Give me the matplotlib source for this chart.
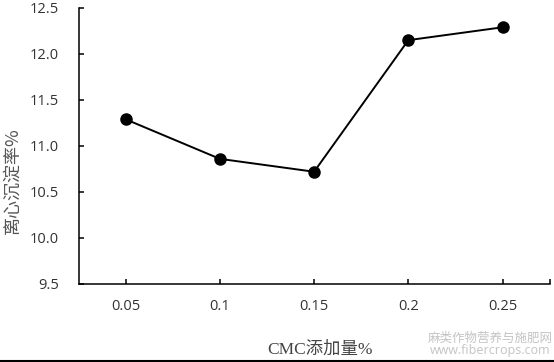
import matplotlib.pyplot as plt
from matplotlib.lines import Line2D

# CMC添加量 vs 离心沉淀率
cmc_labels = ['0.05', '0.1', '0.15', '0.2', '0.25']
sediment = [11.29, 10.86, 10.72, 12.15, 12.29]
y_ticks = [9.5, 10.0, 10.5, 11.0, 11.5, 12.0, 12.5]

fig = plt.figure(figsize=(5.54, 3.62), dpi=100)
ax = fig.add_axes([0.1417, 0.2155, 0.8505, 0.7625])

x = list(range(len(cmc_labels)))
ax.plot(x, sediment, color='black', lw=1.4, marker='o', markersize=8,
        markerfacecolor='black', markeredgecolor='black')

ax.set_xlim(-0.5, len(cmc_labels) - 0.5)
ax.set_ylim(9.5, 12.5)
ax.set_xticks(x)
ax.set_xticklabels(cmc_labels)
ax.set_xticks([len(cmc_labels) - 0.5], minor=True)
ax.set_yticks(y_ticks)
ax.set_yticklabels(['%.1f' % v for v in y_ticks])

for side in ['top', 'right']:
    ax.spines[side].set_visible(False)
for side in ['left', 'bottom']:
    ax.spines[side].set_linewidth(1.1)

ax.tick_params(axis='both', which='both', direction='in', length=3.5, width=1.1,
               colors='black', labelcolor='#333333')
ax.tick_params(axis='y', pad=14)
ax.tick_params(axis='x', pad=11)
for lab in ax.get_xticklabels() + ax.get_yticklabels():
    lab.set_fontfamily('Open Sans')
    lab.set_fontsize(10.5)

fig.text(0.578, 0.035, 'CMC添加量%', ha='center', va='center', fontsize=12.5,
         color='#444444', family=['Liberation Serif', 'Noto Sans CJK SC'])
fig.text(0.022, 0.5, '离心沉淀率%', ha='center', va='center', rotation=90,
         fontsize=13, color='#555555', family=['Noto Sans CJK SC', 'DejaVu Sans'])

# watermark
fig.text(0.885, 0.066, '麻类作物营养与施肥网', ha='center', va='center', fontsize=9,
         color='#c4c4c4', family=['Noto Sans CJK SC'])
fig.text(0.885, 0.032, 'www.fibercrops.com', ha='center', va='center', fontsize=9,
         color='#c4c4c4', family=['Open Sans'])

# border line at the bottom of the picture
fig.add_artist(Line2D([0, 1], [0.004, 0.004], transform=fig.transFigure,
                      color='black', lw=1.5))

fig.savefig('out.png', dpi=100)
